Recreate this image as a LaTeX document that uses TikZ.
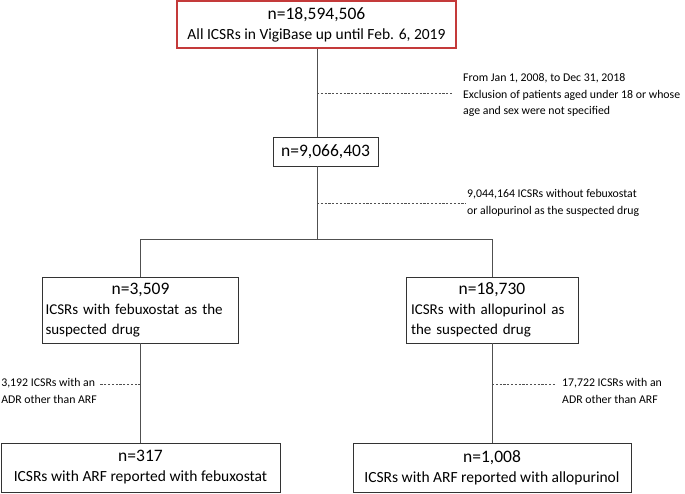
\documentclass[tikz,border=0pt]{standalone}
\usepackage{fontspec}
\setmainfont{Carlito}
\definecolor{boxred}{RGB}{196,58,58}
\definecolor{linegray}{RGB}{80,80,80}
\newcommand{\bigN}{\fontsize{17.5}{20}\selectfont}
\newcommand{\bodyT}{\fontsize{15.5}{20}\selectfont}
\newcommand{\midT}{\fontsize{15}{20}\selectfont}
\newcommand{\noteT}{\fontsize{11.8}{16.5}\selectfont}
\tikzset{
  box/.style={rectangle, draw=black!80, line width=0.8pt, inner sep=0pt, font=\bodyT},
  note/.style={align=left, inner sep=1pt, font=\noteT},
  flow/.style={draw=linegray, line width=0.9pt},
  gap/.style={draw=linegray, line width=0.6pt, dash pattern=on 2.2pt off 1.6pt}
}
\begin{document}
\begin{tikzpicture}[x=1pt, y=-1pt]
        \useasboundingbox (0,0) rectangle (685,493);
        % Full database
        \node[box, draw=boxred, line width=1.6pt, minimum width=279, minimum height=47, align=center] (all) at (316.5,24.5) {{\bigN n=18,594,506}\\All ICSRs in VigiBase up until Feb. 6, 2019};
        \node[box, minimum width=105, minimum height=29, font=\bigN] (adult) at (325.5,151.5) {n=9,066,403};
        
        % Suspected drug groups
        \node[box, minimum width=196, minimum height=66, text width=190, align=left, font=\midT] (febu) at (140.5,310) {\makebox[190pt]{\bigN n=3,509}\\ICSRs with febuxostat as the\\suspected drug};
        \node[box, minimum width=172, minimum height=66, text width=162, align=left, font=\midT] (allo) at (492,310) {\makebox[162pt]{\bigN n=18,730}\\ICSRs with allopurinol as\\the suspected drug};
        
        % ARF cases
        \node[box, minimum width=279, minimum height=49, align=center] (febuarf) at (140.5,467.5) {{\bigN n=317}\\ICSRs with ARF reported with febuxostat};
        \node[box, minimum width=278, minimum height=49, align=center] (alloarf) at (492,467.5) {{\bigN n=1,008}\\ICSRs with ARF reported with allopurinol};
        
        % Exclusion notes
        \node[note, anchor=west] (ex1) at (462,95) {From Jan 1, 2008, to Dec 31, 2018\\Exclusion of patients aged under 18 or whose\\age and sex were not specified};
        \node[note, anchor=west] (ex2) at (466,203) {9,044,164 ICSRs without febuxostat\\or allopurinol as the suspected drug};
        \node[note, anchor=east] (ex3) at (98,391) {3,192 ICSRs with an\\ADR other than ARF};
        \node[note, anchor=west] (ex4) at (561,391) {17,722 ICSRs with an\\ADR other than ARF};
        
        \coordinate (split) at (317,239);
        \coordinate (splitL) at (140.5,239);
        \coordinate (splitR) at (492,239);
        \coordinate (cut1) at (317,93);
        \coordinate (cut2) at (317,203);
        \coordinate (cut3) at (140.5,384);
        \coordinate (cut4) at (492,384);
        
        % Flow lines
        \draw[flow] (all.south -| split) -- (adult.north -| split);
        \draw[flow] (adult.south -| split) -- (split);
        \draw[flow] (splitL) -- (splitR);
        \draw[flow] (splitL) -- (febu.north);
        \draw[flow] (splitR) -- (allo.north);
        \draw[flow] (febu.south) -- (febuarf.north);
        \draw[flow] (allo.south) -- (alloarf.north);
        
        % Dashed exclusions
        \draw[gap] (cut1) -- (453,93);
        \draw[gap] (cut2) -- (ex2.west |- cut2);
        \draw[gap] (cut3) -- (100,384);
        \draw[gap] (cut4) -- (555,384);
    \end{tikzpicture}
\end{document}
